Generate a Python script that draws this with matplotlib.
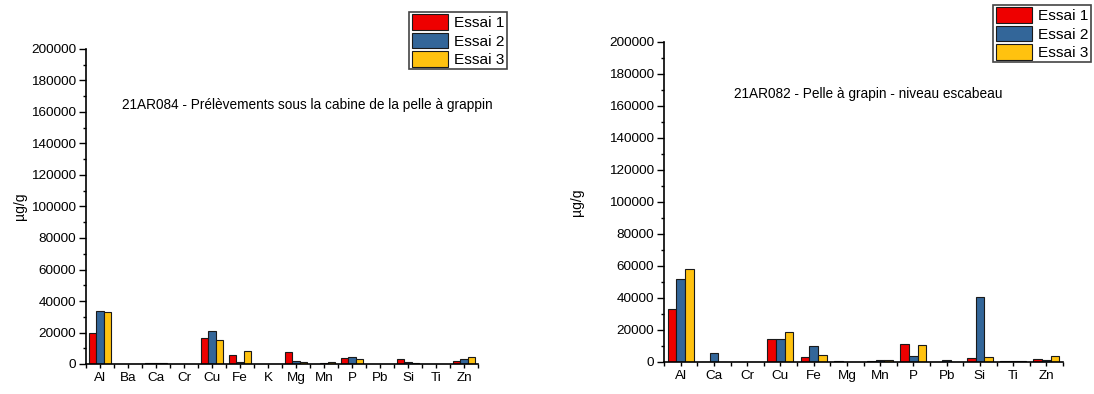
import numpy as np
import matplotlib
matplotlib.use("Agg")
import matplotlib.pyplot as plt
from matplotlib.patches import Patch
from matplotlib.ticker import MultipleLocator, FixedLocator

plt.rcParams['font.family'] = ['Liberation Sans', 'DejaVu Sans']

# Left panel: 21AR084
elements_a = ["Al", "Ba", "Ca", "Cr", "Cu", "Fe", "K", "Mg", "Mn", "P", "Pb", "Si", "Ti", "Zn"]
essai1_a = [20000, 0, 600, 0, 16800, 6000, 0, 7700, 200, 3800, 0, 3200, 0, 1900]
essai2_a = [33600, 0, 400, 0, 20900, 1300, 0, 2100, 600, 4500, 0, 1300, 0, 3000]
essai3_a = [33200, 0, 400, 0, 15300, 8300, 0, 1300, 1300, 3000, 0, 600, 0, 4500]
title_a = "21AR084 - Prélèvements sous la cabine de la pelle à grappin"

# Right panel: 21AR082
elements_b = ["Al", "Ca", "Cr", "Cu", "Fe", "Mg", "Mn", "P", "Pb", "Si", "Ti", "Zn"]
essai1_b = [33100, 300, 0, 14600, 3300, 600, 600, 11250, 0, 2500, 400, 2100]
essai2_b = [51700, 5400, 0, 14600, 9800, 200, 1000, 3500, 1250, 40600, 400, 1450]
essai3_b = [58100, 100, 100, 18750, 4600, 200, 1250, 10400, 200, 3100, 800, 3500]
title_b = "21AR082 - Pelle à grapin - niveau escabeau"

series_labels = ["Essai 1", "Essai 2", "Essai 3"]
colors = ["#EE0000", "#336699", "#FFC20F"]

fig = plt.figure(figsize=(10.94, 3.94), dpi=100)
W, H = 1094, 394


def px_axes(x0, x1, ytop, ybot):
    return fig.add_axes([x0 / W, 1 - ybot / H, (x1 - x0) / W, (ybot - ytop) / H])


def draw_panel(ax, cats, series, title, title_xy, legend_anchor, ylabel_x):
    n = len(cats)
    x = np.arange(n)
    bw = 0.26
    for i, (vals, c) in enumerate(zip(series, colors)):
        ax.bar(x + (i - 1) * bw, vals, width=bw, color=c, edgecolor="#1a1a1a",
               linewidth=0.8, zorder=2)
    ax.set_xlim(-0.5, n - 0.5)
    ax.set_ylim(0, 200000)
    ax.set_xticks(x)
    ax.set_xticklabels(cats, fontsize=9.7)
    ax.xaxis.set_minor_locator(FixedLocator(np.arange(-0.5, n, 1.0)))
    ax.yaxis.set_major_locator(MultipleLocator(20000))
    ax.yaxis.set_minor_locator(MultipleLocator(10000))
    ax.tick_params(axis="y", which="major", length=5, width=1, labelsize=9.7, pad=2)
    ax.tick_params(axis="y", which="minor", length=2.5, width=1)
    ax.tick_params(axis="x", which="both", length=3, width=1, pad=3)
    for s in ("top", "right"):
        ax.spines[s].set_visible(False)
    for s in ("left", "bottom"):
        ax.spines[s].set_linewidth(1.2)
    ax.set_ylabel("µg/g", fontsize=10)
    x0 = ax.get_position().x0 * W
    w = ax.get_position().width * W
    ax.yaxis.set_label_coords((ylabel_x - x0) / w, 0.5)
    fig.text(title_xy[0] / W, 1 - title_xy[1] / H, title, fontsize=9.8,
             ha="center", va="center")
    handles = [Patch(facecolor=c, edgecolor="#1a1a1a", linewidth=0.8) for c in colors]
    leg = fig.legend(handles, series_labels, loc="upper right",
                     bbox_to_anchor=(legend_anchor[0] / W, 1 - legend_anchor[1] / H),
                     fontsize=11.1, frameon=True, fancybox=False, edgecolor="#444444",
                     framealpha=1, handlelength=2.38, handleheight=1.19,
                     labelspacing=0.15, handletextpad=0.39, borderpad=0.15,
                     borderaxespad=0)
    leg.get_frame().set_linewidth(1.2)


ax1 = px_axes(86, 478, 49, 364)
draw_panel(ax1, elements_a, [essai1_a, essai2_a, essai3_a], title_a,
           (307, 105), (507, 12), 27)

ax2 = px_axes(664, 1063, 42, 362)
draw_panel(ax2, elements_b, [essai1_b, essai2_b, essai3_b], title_b,
           (868, 94), (1091, 5), 584)

fig.savefig("out.png", dpi=100)
